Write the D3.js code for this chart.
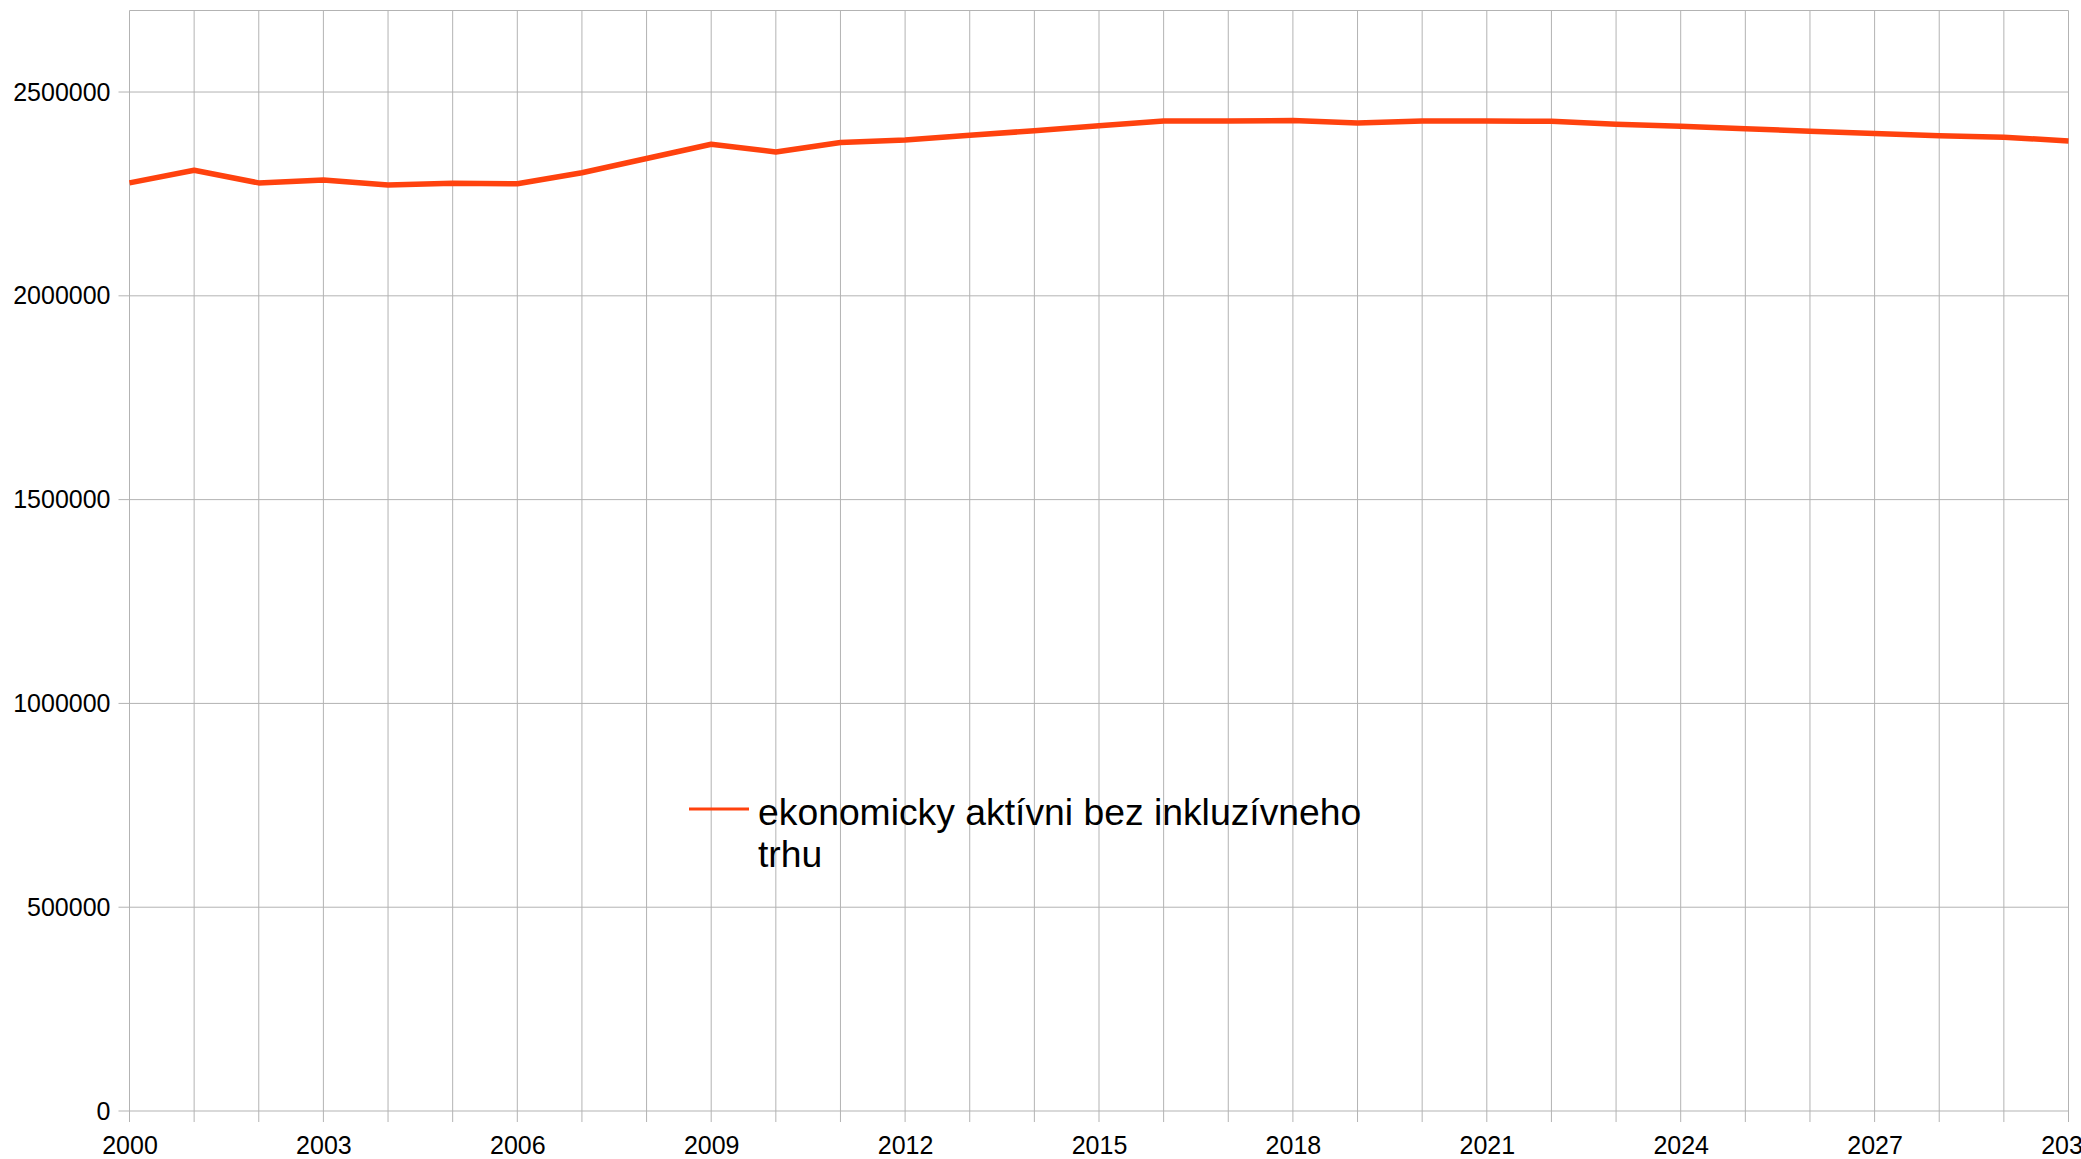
<!DOCTYPE html>
<html>
<head>
<meta charset="utf-8">
<script src="https://cdn.jsdelivr.net/npm/d3@7"></script>
<style>
  body { margin: 0; background: #fff; }
  svg { display: block; font-family: "Liberation Sans", Arial, sans-serif; }
</style>
</head>
<body>
<svg id="chart" width="2081" height="1159"></svg>
<script>
const svg = d3.select('#chart')
const gridColor = '#b3b3b3'
const lineColor = '#ff420e'

// data
const years = [2000, 2001, 2002, 2003, 2004, 2005, 2006, 2007, 2008, 2009,
  2010, 2011, 2012, 2013, 2014, 2015, 2016, 2017, 2018, 2019,
  2020, 2021, 2022, 2023, 2024, 2025, 2026, 2027, 2028, 2029, 2030]
const activeWorkers = [2277000, 2308000, 2277000, 2284000, 2272000, 2276000, 2275000, 2302000, 2337000, 2372000,
  2353000, 2376000, 2382000, 2394000, 2405000, 2417000, 2429000, 2429000, 2430000, 2424000,
  2429000, 2429000, 2428000, 2421000, 2416000, 2410000, 2404000, 2398000, 2393000, 2389000, 2380000]
const yTicks = [0, 500000, 1000000, 1500000, 2000000, 2500000]
const xLabelYears = [2000, 2003, 2006, 2009, 2012, 2015, 2018, 2021, 2024, 2027, 2030]
const seriesName = ['ekonomicky aktívni bez inkluzívneho', 'trhu']

const plotLeft = 129.5, plotRight = 2068.5, plotTop = 10.5, plotBottom = 1111
const tickLen = 11

const x = d3.scaleLinear().domain([2000, 2030]).range([plotLeft, plotRight])
const y = d3.scaleLinear().domain([0, 2700000]).range([plotBottom, plotTop])

// vertical grid + ticks below the axis
svg.append('g')
  .selectAll('line')
  .data(years)
  .join('line')
    .attr('x1', d => x(d)).attr('x2', d => x(d))
    .attr('y1', plotTop).attr('y2', plotBottom + tickLen)
    .attr('stroke', gridColor).attr('stroke-width', 1)

// horizontal grid + ticks left of the axis
svg.append('g')
  .selectAll('line')
  .data(yTicks)
  .join('line')
    .attr('x1', plotLeft - tickLen).attr('x2', plotRight)
    .attr('y1', d => y(d)).attr('y2', d => y(d))
    .attr('stroke', gridColor).attr('stroke-width', 1)

// frame top
svg.append('line')
  .attr('x1', plotLeft).attr('x2', plotRight)
  .attr('y1', plotTop).attr('y2', plotTop)
  .attr('stroke', gridColor)

// y labels
const yAxis = d3.axisLeft(y).tickValues(yTicks).tickSize(0).tickPadding(0).tickFormat(d => d)
const gy = svg.append('g')
  .attr('transform', `translate(${plotLeft - tickLen - 8},0)`)
  .call(yAxis)
gy.select('.domain').remove()
gy.selectAll('text')
  .attr('font-size', '25px')
  .attr('font-family', '"Liberation Sans", Arial, sans-serif')
  .attr('fill', '#000')

// x labels (the last one runs off the right edge, as in the original)
const xAxis = d3.axisBottom(x).tickValues(xLabelYears).tickSize(0).tickPadding(0).tickFormat(d => d)
const gx = svg.append('g')
  .attr('transform', `translate(0,${plotBottom})`)
  .call(xAxis)
gx.select('.domain').remove()
gx.selectAll('text')
  .attr('dy', null)
  .attr('y', 43)
  .attr('font-size', '25px')
  .attr('font-family', '"Liberation Sans", Arial, sans-serif')
  .attr('fill', '#000')

// series line
const line = d3.line()
  .x((d, i) => x(years[i]))
  .y(d => y(d))

svg.append('path')
  .datum(activeWorkers)
  .attr('d', line)
  .attr('fill', 'none')
  .attr('stroke', lineColor)
  .attr('stroke-width', 5.5)
  .attr('stroke-linejoin', 'round')

// legend
const legend = svg.append('g').attr('transform', 'translate(689,809)')
legend.append('line')
  .attr('x1', 0).attr('x2', 60)
  .attr('y1', 0).attr('y2', 0)
  .attr('stroke', lineColor).attr('stroke-width', 3)
legend.selectAll('text')
  .data(seriesName)
  .join('text')
    .attr('x', 69)
    .attr('y', (d, i) => 16 + i * 41.5)
    .attr('font-size', '37.3px')
    .attr('fill', '#000')
    .text(d => d)
</script>
</body>
</html>
